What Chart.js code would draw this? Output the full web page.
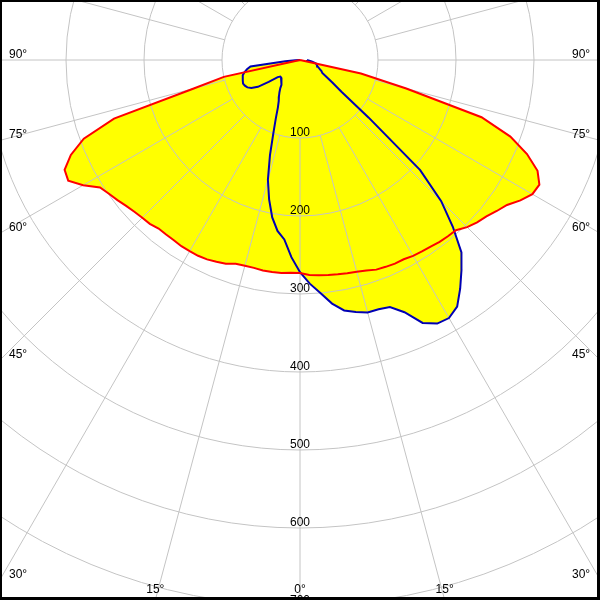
<!DOCTYPE html>
<html>
<head>
<meta charset="utf-8">
<script src="https://cdn.jsdelivr.net/npm/chart.js@4.4.1/dist/chart.umd.min.js"></script>
<style>
  html, body { margin: 0; padding: 0; background: #fff; }
  #wrap { width: 600px; height: 600px; position: relative; }
</style>
</head>
<body>
<div id="wrap"><canvas id="polar"></canvas></div>
<script>
// gamma angles in degrees, 0 = straight down, negative = left half
var angles = [
  -90, -87.5, -85, -82.5, -80, -77.5, -75, -72.5, -70, -67.5, -65, -62.5,
  -60, -57.5, -55, -52.5, -50, -47.5, -45, -42.5, -40, -37.5, -35, -32.5,
  -30, -27.5, -25, -22.5, -20, -17.5, -15, -12.5, -10, -7.5, -5, -2.5,
  0, 2.5, 5, 7.5, 10, 12.5, 15, 17.5, 20, 22.5, 25, 27.5,
  30, 32.5, 35, 37.5, 40, 42.5, 45, 47.5, 50, 52.5, 55, 57.5,
  60, 62.5, 65, 67.5, 70, 72.5, 75, 77.5, 80, 82.5, 85, 87.5,
  90
];

// luminous intensity (cd) in the C0-C180 plane (red)
var planeC0 = [
  0, 0, 0, 0, 0, 100, 141, 250, 295, 318, 333, 335,
  321, 304, 299, 295, 291, 288, 286, 285, 282, 282, 282, 283,
  283, 283, 282, 280, 278, 274, 273, 273, 274, 274, 274, 273,
  273, 276, 277, 278, 279, 280, 281, 283, 286, 287, 288, 288,
  290, 291, 292, 294, 295, 296, 303, 308, 312, 318, 324, 335,
  344, 346, 336, 315, 287, 244, 141, 80, 0, 0, 0, 0,
  0
];

// luminous intensity (cd) in the C90-C270 plane (blue)
var planeC90 = [
  0, 6, 19, 64, 69, 73, 76, 77, 78, 79, 78, 76,
  72, 64, 49, 36, 33, 33, 33, 35, 37, 40, 44, 49,
  54, 59, 67, 81, 100, 128, 159, 183, 205, 221, 231, 253,
  272, 287, 300, 315, 326, 331, 335, 335, 337, 350, 372, 381,
  382, 375, 358, 340, 322, 290, 256, 209, 115, 67, 51, 40,
  33, 31, 28, 26, 24, 23, 22, 21, 18, 15, 13, 10,
  9
];

// ring labels and angle labels
var ringValues = [100, 200, 300, 400, 500, 600, 700, 800, 900, 1000];
var sideAngleLabels = [90, 75, 60, 45, 30];
var bottomAngleLabels = [15, 0, 15];
var bottomAngleSigns = [-1, 0, 1];

// view: 0.78 px per cd, pole at (300, 60)
var pxPerCd = 0.78;

function toXY(values) {
  var pts = [];
  for (var i = 0; i < angles.length; i++) {
    var a = angles[i] * Math.PI / 180;
    pts.push({x: values[i] * Math.sin(a), y: -values[i] * Math.cos(a)});
  }
  return pts;
}

var redPts = toXY(planeC0);
var bluePts = toXY(planeC90);

var FONT = '12px "Liberation Sans", Arial, sans-serif';

// grid rings + spokes, drawn over the yellow fill but under the curves
var gridPlugin = {
  id: 'polarGrid',
  afterDatasetDraw: function(chart, args) {
    if (args.index !== 2) return;
    var xs = chart.scales.x, ys = chart.scales.y;
    var area = chart.chartArea;
    var cx = xs.getPixelForValue(0), cy = ys.getPixelForValue(0);
    var k = xs.getPixelForValue(100) - cx; // px per 100 cd
    var ctx = chart.ctx;
    ctx.save();
    ctx.beginPath();
    ctx.rect(area.left, area.top, area.right - area.left, area.bottom - area.top);
    ctx.clip();
    ctx.strokeStyle = '#c4c4c4';
    ctx.lineWidth = 1;
    ringValues.forEach(function(v) {
      ctx.beginPath();
      ctx.arc(cx, cy, v / 100 * k, 0, Math.PI * 2);
      ctx.stroke();
    });
    for (var d = 0; d < 360; d += 15) {
      var a = d * Math.PI / 180;
      var r0 = k, r1 = 12 * k;
      ctx.beginPath();
      ctx.moveTo(cx + r0 * Math.sin(a), cy + r0 * Math.cos(a));
      ctx.lineTo(cx + r1 * Math.sin(a), cy + r1 * Math.cos(a));
      ctx.stroke();
    }
    ctx.restore();
  },
  afterDraw: function(chart) {
    var xs = chart.scales.x, ys = chart.scales.y;
    var area = chart.chartArea;
    var cx = xs.getPixelForValue(0), cy = ys.getPixelForValue(0);
    var k = xs.getPixelForValue(100) - cx;
    var ctx = chart.ctx;
    ctx.save();
    ctx.font = FONT;
    ctx.fillStyle = '#000';
    ctx.textBaseline = 'alphabetic';

    // ring values along the 0 degree spoke
    ctx.textAlign = 'center';
    ringValues.forEach(function(v) {
      ctx.fillText(String(v), cx, cy + v / 100 * k - 2);
    });

    // angle labels where spokes leave the frame
    ctx.textAlign = 'left';
    sideAngleLabels.forEach(function(d) {
      var t = Math.tan(d * Math.PI / 180);
      var y = cy + (cx - area.left) / t;
      ctx.fillText(d + '°', area.left + 9, y - 2);
      ctx.fillText(d + '°', area.right - 28, y - 2);
    });
    ctx.textAlign = 'center';
    bottomAngleLabels.forEach(function(d, i) {
      var t = Math.tan(d * Math.PI / 180);
      var x = cx + bottomAngleSigns[i] * (area.bottom - cy) * t;
      ctx.fillText(d + '°', x, area.bottom - 7);
    });

    // frame
    ctx.fillStyle = '#000';
    ctx.fillRect(0, 0, chart.width, 2);
    ctx.fillRect(0, 0, 2, chart.height);
    ctx.fillRect(chart.width - 3, 0, 3, chart.height);
    ctx.fillRect(0, chart.height - 3, chart.width, 3);
    ctx.restore();
  }
};

var polarChart = new Chart(document.getElementById('polar'), {
  type: 'scatter',
  data: {
    datasets: [
      {label: 'C0-C180', data: redPts, showLine: true, fill: false,
       borderColor: '#ff0000', borderWidth: 2, pointRadius: 0, order: 0},
      {label: 'C90-C270', data: bluePts, showLine: true, fill: false,
       borderColor: '#0000b4', borderWidth: 2, pointRadius: 0, order: 1},
      {label: 'fill C0', data: redPts, showLine: true, fill: 'shape',
       backgroundColor: '#ffff00', borderWidth: 0, pointRadius: 0, order: 2},
      {label: 'fill C90', data: bluePts, showLine: true, fill: 'shape',
       backgroundColor: '#ffff00', borderWidth: 0, pointRadius: 0, order: 3}
    ]
  },
  options: {
    responsive: true,
    maintainAspectRatio: false,
    animation: false,
    layout: {padding: 0},
    elements: {line: {tension: 0}},
    scales: {
      x: {type: 'linear', display: false, min: -300 / pxPerCd, max: 300 / pxPerCd},
      y: {type: 'linear', display: false, min: -540 / pxPerCd, max: 60 / pxPerCd}
    },
    plugins: {
      legend: {display: false},
      tooltip: {enabled: false}
    }
  },
  plugins: [gridPlugin]
});
</script>
</body>
</html>
